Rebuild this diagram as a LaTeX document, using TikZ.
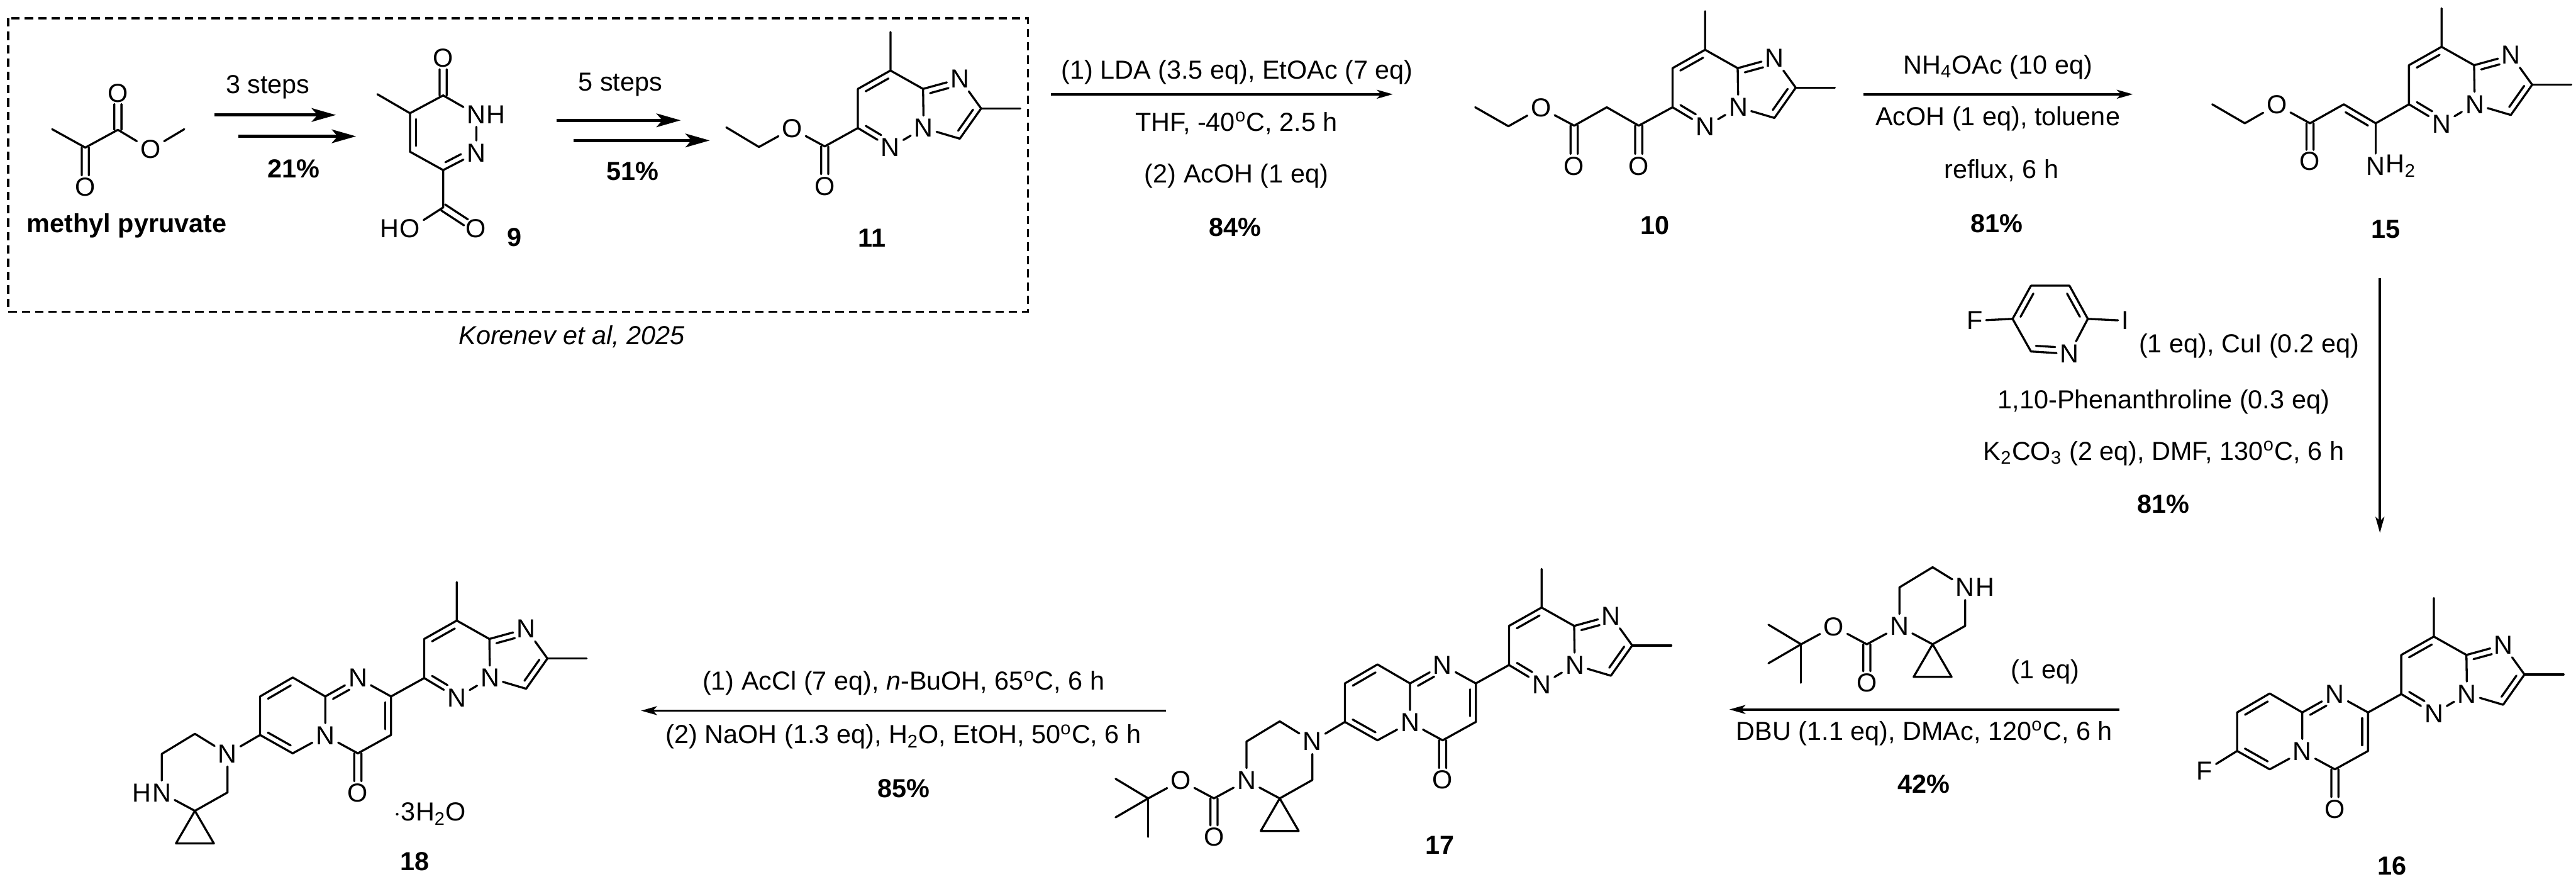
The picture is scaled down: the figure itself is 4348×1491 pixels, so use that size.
\documentclass[tikz,border=0pt]{standalone}
\usepackage{fontspec}
\setmainfont{Liberation Sans}
\usetikzlibrary{arrows.meta, calc}

\newcommand{\schemefont}{\fontsize{12.5pt}{15pt}\selectfont}
\newcommand{\innerbond}[4]{\draw[bond] ($(#1)!#3!(#2)!.1cm!90:(#2)$) -- ($(#1)!#4!(#2)!.1cm!90:(#2)$);}
\newcommand{\oxobond}[2]{%
  \draw[bond] ($(#1)!.06cm!90:(#2)$) -- ($(#1)!.7!(#2)!.06cm!90:(#2)$);
  \draw[bond] ($(#1)!.06cm!-90:(#2)$) -- ($(#1)!.7!(#2)!.06cm!-90:(#2)$);}

\tikzset{
  imidazo/.pic={
    \coordinate (-me8) at (0,-65);
    \coordinate (-c8) at (0,0);
    \coordinate (-c7) at (-55,31);
    \coordinate (-c6) at (-55,97);
    \node[atom] (-n5) at (0,130) {N};
    \node[atom] (-n4) at (56,97) {N};
    \coordinate (-c8a) at (55,31);
    \node[atom] (-n1) at (117,14) {N};
    \coordinate (-c2) at (153,64);
    \coordinate (-c3) at (117,115);
    \coordinate (-me2) at (219,64);
    \draw[bond] (-me8) -- (-c8) -- (-c7) -- (-c6) -- (-n5) -- (-n4) -- (-c3) -- (-c2) -- (-n1) -- (-c8a) -- (-c8);
    \draw[bond] (-c8a) -- (-n4);
    \draw[bond] (-c2) -- (-me2);
    \innerbond{-c8}{-c7}{.15}{.85}
    \innerbond{-c6}{-n5}{.15}{.62}
    \innerbond{-c3}{-c2}{.15}{.85}
    \innerbond{-n1}{-c8a}{.35}{.85}
  },
  pyrimidone/.pic={
    \coordinate (-c2) at (-111,128);
    \node[atom] (-n1) at (-167,97) {N};
    \coordinate (-c8a) at (-222,128);
    \node[atom] (-n5) at (-222,194) {N};
    \coordinate (-c4) at (-167,224);
    \coordinate (-c3) at (-111,193);
    \node[atom] (-o) at (-167,291) {O};
    \coordinate (-c9) at (-277,96);
    \coordinate (-c8) at (-332,128);
    \coordinate (-c7) at (-332,193);
    \coordinate (-c6) at (-277,224);
    \draw[bond] (-c2) -- (-n1) -- (-c8a) -- (-n5) -- (-c4) -- (-c3) -- (-c2);
    \draw[bond] (-c8a) -- (-c9) -- (-c8) -- (-c7) -- (-c6) -- (-n5);
    \innerbond{-c3}{-c2}{.15}{.85}
    \innerbond{-n1}{-c8a}{.35}{.85}
    \innerbond{-c9}{-c8}{.15}{.85}
    \innerbond{-c7}{-c6}{.15}{.85}
    \oxobond{-c4}{-o}
  },
  spirocycle/.pic={
    \coordinate (-sp) at (0,0);
    \node[atom] (-nl) at (-56,-30) {N};
    \coordinate (-ca) at (-56,-96);
    \coordinate (-cb) at (0,-130);
    \node[atom] (-nr) at (55,-96) {N};
    \coordinate (-cc) at (55,-31);
    \coordinate (-cpl) at (-32,55);
    \coordinate (-cpr) at (32,55);
    \draw[bond] (-sp) -- (-nl) -- (-ca) -- (-cb) -- (-nr) -- (-cc) -- (-sp);
    \draw[bond] (-sp) -- (-cpl) -- (-cpr) -- (-sp);
  },
  bocgroup/.pic={
    \coordinate (-co) at (-111,0);
    \node[atom] (-o1) at (-111,65) {O};
    \node[atom] (-o2) at (-167,-30) {O};
    \coordinate (-cq) at (-222,0);
    \coordinate (-me1) at (-277,-33);
    \coordinate (-me2) at (-277,32);
    \coordinate (-me3) at (-222,65);
    \draw[bond] (-co) -- (-o2) -- (-cq);
    \draw[bond] (-me1) -- (-cq) -- (-me2);
    \draw[bond] (-cq) -- (-me3);
    \oxobond{-co}{-o1}
  }
}

\begin{document}
\begin{tikzpicture}[
    x=0.01cm, y=-0.01cm,
    bond/.style={line width=0.035cm, line cap=round, line join=round},
    atom/.style={inner sep=1.5pt, font=\schemefont},
    hright/.style={inner sep=0pt, font=\schemefont, anchor=west, xshift=-1.5pt},
    hleft/.style={inner sep=0pt, font=\schemefont, anchor=east, xshift=1.5pt},
    cond/.style={inner sep=0pt, font=\schemefont},
    yield/.style={inner sep=0pt, font=\schemefont\bfseries},
    stepline/.style={-{Stealth[length=0.41cm, width=0.23cm, inset=0.1cm]}, line width=0.05cm},
    rxnline/.style={-{Stealth[length=0.27cm, width=0.15cm, inset=0.07cm]}, line width=0.04cm}
]
\useasboundingbox (0,0) rectangle (4348,1491);

% Literature box
\draw[line width=0.04cm, dash pattern=on 0.14cm off 0.085cm] (14,31) rectangle (1735,526);
\node[cond, font=\schemefont\itshape] (ref) at (965,568) {Korenev et al, 2025};

% Methyl pyruvate
\coordinate (mp1) at (88,218);
\coordinate (mp2) at (144,249);
\coordinate (mp3) at (199,219);
\node[atom] (mpo1) at (199,157) {O};
\node[atom] (mpo2) at (144,316) {O};
\node[atom] (mpo3) at (254,252) {O};
\coordinate (mp4) at (311,218);
\draw[bond] (mp1) -- (mp2) -- (mp3) -- (mpo3) -- (mp4);
\oxobond{mp3}{mpo1}
\oxobond{mp2}{mpo2}
\node[yield] (mpname) at (214,381) {methyl pyruvate};

% 3 steps
\coordinate (s1a) at (362,194);
\coordinate (s1b) at (567,194);
\coordinate (s2a) at (402,230);
\coordinate (s2b) at (601,230);
\draw[stepline] (s1a) -- (s1b);
\draw[stepline] (s2a) -- (s2b);
\node[cond] (steps3) at (452,147) {3 steps};
\node[yield] (y21) at (496,285) {21\%};

% Compound 9
\coordinate (h1) at (637,159);
\coordinate (h5) at (692,191);
\coordinate (h6) at (748,161);
\node[atom] (ho1) at (748,98) {O};
\node[atom] (hn1) at (804,193) {N};
\node[hright] (hh1) at (hn1.east) {H};
\node[atom] (hn2) at (804,258) {N};
\coordinate (h3) at (748,287);
\coordinate (h4) at (692,256);
\coordinate (hc) at (748,350);
\node[atom] (ho2) at (803,386) {O};
\node[atom] (ho3) at (692,386) {O};
\node[hleft] (hh2) at (ho3.west) {H};
\draw[bond] (h1) -- (h5) -- (h6) -- (hn1) -- (hn2) -- (h3) -- (h4) -- (h5);
\draw[bond] (h3) -- (hc) -- (ho3);
\innerbond{h5}{h4}{.15}{.85}
\innerbond{h3}{hn2}{.15}{.62}
\oxobond{h6}{ho1}
\oxobond{hc}{ho2}
\node[yield] (lab9) at (868,400) {9};

% 5 steps
\coordinate (s3a) at (939,203);
\coordinate (s3b) at (1149,203);
\coordinate (s4a) at (968,237);
\coordinate (s4b) at (1198,237);
\draw[stepline] (s3a) -- (s3b);
\draw[stepline] (s4a) -- (s4b);
\node[cond] (steps5) at (1047,143) {5 steps};
\node[yield] (y51) at (1068,289) {51\%};

% Compound 11
\pic (m11) at (1503,119) {imidazo};
\coordinate (e11c) at (1392,247);
\node[atom] (e11o1) at (1392,314) {O};
\node[atom] (e11o2) at (1337,217) {O};
\coordinate (e11a) at (1281,248);
\coordinate (e11b) at (1226,215);
\draw[bond] (m11-c6) -- (e11c) -- (e11o2) -- (e11a) -- (e11b);
\oxobond{e11c}{e11o1}
\node[yield] (lab11) at (1472,402) {11};

% 11 to 10
\coordinate (a1a) at (1774,159);
\coordinate (a1b) at (2351,159);
\draw[rxnline] (a1a) -- (a1b);
\node[cond] (lda) at (2088,122) {(1) LDA (3.5 eq), EtOAc (7 eq)};
\node[cond] (thf) at (2087,208) {THF, -40\textsuperscript{o}C, 2.5 h};
\node[cond] (acoh) at (2087,297) {(2) AcOH (1 eq)};
\node[yield] (y84) at (2085,383) {84\%};

% Compound 10
\pic (m10) at (2878,84) {imidazo};
\coordinate (k10) at (2766,212);
\node[atom] (k10o) at (2766,280) {O};
\coordinate (ch10) at (2712,181);
\coordinate (e10c) at (2657,212);
\node[atom] (e10o1) at (2657,280) {O};
\node[atom] (e10o2) at (2601,182) {O};
\coordinate (e10a) at (2546,213);
\coordinate (e10b) at (2490,181);
\draw[bond] (m10-c6) -- (k10) -- (ch10) -- (e10c) -- (e10o2) -- (e10a) -- (e10b);
\oxobond{k10}{k10o}
\oxobond{e10c}{e10o1}
\node[yield] (lab10) at (2793,380) {10};

% 10 to 15
\coordinate (a2a) at (3145,159);
\coordinate (a2b) at (3600,159);
\draw[rxnline] (a2a) -- (a2b);
\node[cond] (nh4) at (3372,113) {NH\textsubscript{4}OAc (10 eq)};
\node[cond] (tol) at (3372,200) {AcOH (1 eq), toluene};
\node[cond] (refl) at (3378,288) {reflux, 6 h};
\node[yield] (y81a) at (3370,377) {81\%};

% Compound 15
\pic (m15) at (4121,79) {imidazo};
\coordinate (v15) at (4010,208);
\node[atom] (n15) at (4010,280) {N};
\node[hright] (h15) at (n15.east) {H\textsubscript{2}};
\coordinate (ch15) at (3956,176);
\coordinate (e15c) at (3899,208);
\node[atom] (e15o1) at (3899,272) {O};
\node[atom] (e15o2) at (3843,177) {O};
\coordinate (e15a) at (3789,208);
\coordinate (e15b) at (3734,176);
\draw[bond] (m15-c6) -- (v15) -- (ch15) -- (e15c) -- (e15o2) -- (e15a) -- (e15b);
\draw[bond] (v15) -- (n15);
\innerbond{v15}{ch15}{.15}{.85}
\oxobond{e15c}{e15o1}
\node[yield] (lab15) at (4027,387) {15};

% 15 to 16
\coordinate (a3a) at (4017,469);
\coordinate (a3b) at (4017,899);
\draw[rxnline] (a3a) -- (a3b);

% Fluoroiodopyridine
\node[atom] (fpf) at (3333,541) {F};
\coordinate (fp5) at (3397,538);
\coordinate (fp4) at (3428,482);
\coordinate (fp3) at (3493,482);
\coordinate (fp2) at (3524,538);
\node[atom] (fpi) at (3587,541) {I};
\node[atom] (fpn) at (3493,597) {N};
\coordinate (fp6) at (3428,593);
\draw[bond] (fpf) -- (fp5) -- (fp4) -- (fp3) -- (fp2) -- (fpi);
\draw[bond] (fp2) -- (fpn) -- (fp6) -- (fp5);
\innerbond{fp4}{fp5}{.15}{.85}
\innerbond{fp2}{fp3}{.15}{.85}
\innerbond{fp6}{fpn}{.12}{.62}
\node[cond] (cui) at (3796,584) {(1 eq), CuI (0.2 eq)};
\node[cond] (phen) at (3652,678) {1,10-Phenanthroline (0.3 eq)};
\node[cond] (dmf) at (3652,765) {K\textsubscript{2}CO\textsubscript{3} (2 eq), DMF, 130\textsuperscript{o}C, 6 h};
\node[yield] (y81b) at (3652,851) {81\%};

% Compound 16
\pic (m16) at (4108,1074) {imidazo};
\pic (p16) at (4108,1074) {pyrimidone};
\draw[bond] (m16-c6) -- (p16-c2);
\node[atom] (f16) at (3721,1301) {F};
\draw[bond] (p16-c7) -- (f16);
\node[yield] (lab16) at (4037,1461) {16};

% 16 to 17
\coordinate (a4a) at (3577,1197);
\coordinate (a4b) at (2919,1197);
\draw[rxnline] (a4a) -- (a4b);
\pic (sr) at (3262,1087) {spirocycle};
\pic (br) at (3262,1087) {bocgroup};
\draw[bond] (br-co) -- (sr-nl);
\node[hright] (hsr) at (sr-nr.east) {H};
\node[cond] (eq1) at (3452,1133) {(1 eq)};
\node[cond] (dbu) at (3248,1237) {DBU (1.1 eq), DMAc, 120\textsuperscript{o}C, 6 h};
\node[yield] (y42) at (3247,1323) {42\%};

% Compound 17
\pic (m17) at (2602,1025) {imidazo};
\pic (p17) at (2602,1025) {pyrimidone};
\draw[bond] (m17-c6) -- (p17-c2);
\pic (s17) at (2160,1347) {spirocycle};
\pic (b17) at (2160,1347) {bocgroup};
\draw[bond] (b17-co) -- (s17-nl);
\draw[bond] (p17-c7) -- (s17-nr);
\node[yield] (lab17) at (2430,1426) {17};

% 17 to 18
\coordinate (a5a) at (1968,1199);
\coordinate (a5b) at (1082,1199);
\draw[rxnline] (a5a) -- (a5b);
\node[cond] (accl) at (1525,1153) {(1) AcCl (7 eq), \textit{n}-BuOH, 65\textsuperscript{o}C, 6 h};
\node[cond] (naoh) at (1525,1243) {(2) NaOH (1.3 eq), H\textsubscript{2}O, EtOH, 50\textsuperscript{o}C, 6 h};
\node[yield] (y85) at (1525,1330) {85\%};

% Compound 18
\pic (m18) at (771,1047) {imidazo};
\pic (p18) at (771,1047) {pyrimidone};
\draw[bond] (m18-c6) -- (p18-c2);
\pic (s18) at (329,1368) {spirocycle};
\node[hleft] (hs18) at (s18-nl.west) {H};
\draw[bond] (p18-c7) -- (s18-nr);
\node[cond] (hyd) at (726,1373) {$\cdot$3H\textsubscript{2}O};
\node[yield] (lab18) at (700,1453) {18};

\end{tikzpicture}
\end{document}
